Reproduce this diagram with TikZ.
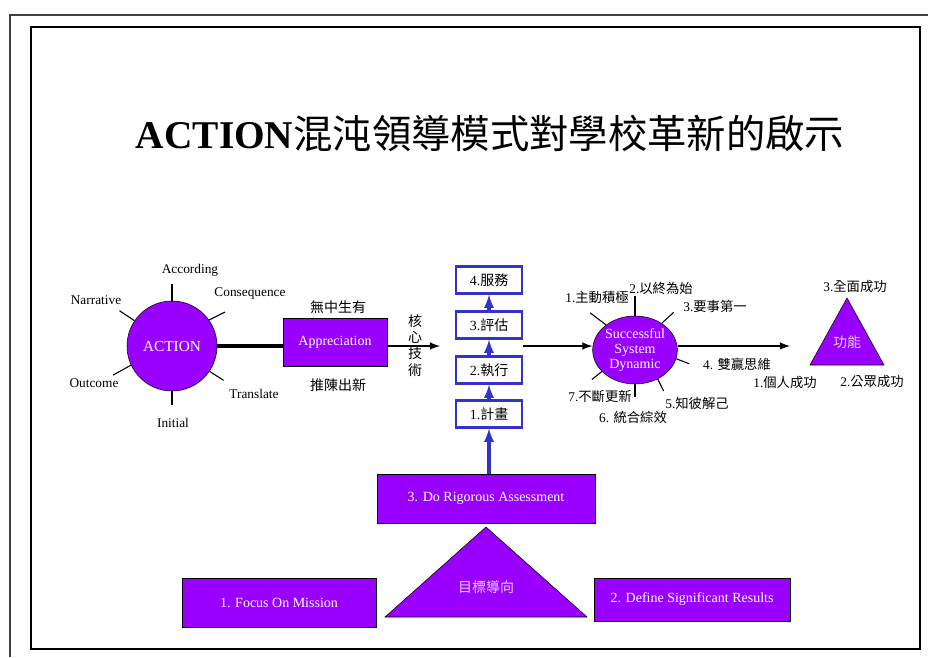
\documentclass[tikz,border=0pt]{standalone}
\usepackage{fontspec}
\setmainfont{Liberation Serif}
\newfontfamily\cjk{Noto Sans CJK TC}
\usepackage{tikz}
\usetikzlibrary{arrows,shapes.geometric}
\definecolor{actpurple}{RGB}{153,0,255}
\definecolor{boxblue}{RGB}{51,51,204}
\definecolor{lilac}{RGB}{235,200,255}

\begin{document}
\begin{tikzpicture}[x=0.75pt,y=-0.75pt,
    lbl/.style={font=\fontsize{10}{12}\selectfont},
    pnode/.style={draw=black,fill=actpurple,text=white,font=\fontsize{10.5}{13}\selectfont},
    pbox/.style={pnode,rectangle,minimum height=36.75pt},
    sbox/.style={draw=boxblue,line width=1.8pt,fill=white,minimum width=49.5pt,minimum height=20pt,inner sep=0pt,font=\fontsize{10.5}{12}\selectfont},
    barr/.style={draw=boxblue,line width=2.4pt,-latex},
    arr/.style={line width=1.6pt,-latex},
    spoke/.style={line width=0.8pt}]
\useasboundingbox (0,0) rectangle (928,657);
\draw[line width=1.6pt,black!75] (10,657) -- (10,15) -- (928,15);
\draw[line width=2pt] (31,27) rectangle (920,649);

\node[font=\fontsize{29.5}{34}\selectfont] (title) at (490,133) {\textbf{ACTION}{\cjk 混沌領導模式對學校革新的啟示}};

\node[pnode,circle,minimum size=67.5pt,inner sep=0pt,font=\fontsize{11.5}{13}\selectfont] (action) at (172,346) {ACTION};
\draw[spoke] (action.90) -- ++(0,-17);
\draw[spoke] (action.35) -- ++(16,-8);
\draw[spoke] (action.146) -- ++(-15,-10);
\draw[spoke] (action.205) -- ++(-18,10);
\draw[spoke] (action.-34) -- ++(14,9);
\draw[spoke] (action.270) -- ++(0,14);
\node[lbl] (according) at (190,270) {According};
\node[lbl] (consequence) at (250,293) {Consequence};
\node[lbl] (narrative) at (96,300) {Narrative};
\node[lbl] (outcome) at (94,383) {Outcome};
\node[lbl] (translate) at (254,394) {Translate};
\node[lbl] (initial) at (173,423) {Initial};

\node[pbox,minimum width=78pt,minimum height=36pt] (appr) at (335,342) {Appreciation};
\draw[line width=2.4pt] (action.east) -- (action.east -| appr.west);
\node[lbl,font=\fontsize{10.5}{12}\selectfont\cjk] (create) at (338,307) {無中生有};
\node[lbl,font=\fontsize{10.5}{12}\selectfont\cjk] (renew) at (338,385) {推陳出新};
\coordinate (core) at (440,346);
\draw[arr] (action.east -| appr.east) -- (core);
\node[align=center,font=\fontsize{10.5}{12.5}\selectfont\cjk] (heart) at (415,329) {核\\心};
\node[align=center,font=\fontsize{10.5}{12.5}\selectfont\cjk] (skill) at (415,362) {技\\術};

\node[sbox] (b4) at (489,280) {4.{\cjk 服務}};
\node[sbox] (b3) at (489,325) {3.{\cjk 評估}};
\node[sbox] (b2) at (489,370) {2.{\cjk 執行}};
\node[sbox] (b1) at (489,414) {1.{\cjk 計畫}};
\draw[barr] (b1) -- (b2);
\draw[barr] (b2) -- (b3);
\draw[barr] (b3) -- (b4);

\node[pnode,ellipse,minimum width=61pt,minimum height=51pt,inner sep=0pt,align=center,font=\fontsize{10.5}{11.5}\selectfont] (succ) at (635,350) {Successful\\System\\Dynamic};
\coordinate (tech) at (523,346);
\draw[arr] (tech) -- (tech -| succ.west);
\coordinate (goal) at (790,346);
\draw[arr] (goal -| succ.east) -- (goal);
\draw[spoke] (succ.139) -- ++(-16,-12);
\draw[spoke] (succ.90) -- ++(0,-20);
\draw[spoke] (succ.45) -- ++(12,-11);
\draw[spoke] (succ.-12) -- ++(13,5);
\draw[spoke] (succ.-52) -- ++(6,12);
\draw[spoke] (succ.270) -- ++(0,13);
\draw[spoke] (succ.213) -- ++(-10,8);
\node[lbl] (h1) at (597,297) {1.{\cjk 主動積極}};
\node[lbl] (h2) at (661,288) {2.{\cjk 以終為始}};
\node[lbl] (h3) at (715,306) {3.{\cjk 要事第一}};
\node[lbl] (h4) at (737,364) {4. {\cjk 雙贏思維}};
\node[lbl] (h5) at (697,403) {5.{\cjk 知彼解己}};
\node[lbl] (h6) at (633,417) {6. {\cjk 統合綜效}};
\node[lbl] (h7) at (600,396) {7.{\cjk 不斷更新}};

\draw[fill=actpurple] (847,298) -- (884,365) -- (810,365) -- cycle;
\node[text=lilac,font=\fontsize{10.5}{12}\selectfont\cjk] (func) at (847,342) {功能};
\node[lbl] (whole) at (855,286) {3.{\cjk 全面成功}};
\node[lbl] (self) at (785,382) {1.{\cjk 個人成功}};
\node[lbl] (public) at (872,382) {2.{\cjk 公眾成功}};

\node[pbox,minimum width=163.5pt] (assess) at (486,498.5) {3. Do Rigorous Assessment};
\draw[barr] (b1 |- assess.north) -- (b1.south);
\draw[fill=actpurple] (486,527) -- (587,617) -- (385,617) -- cycle;
\node[text=lilac,font=\fontsize{10.5}{12}\selectfont\cjk] (target) at (486,587) {目標導向};
\node[pbox,minimum width=145.5pt] (mission) at (279,602.5) {1. Focus On Mission};
\node[pbox,minimum width=147pt,minimum height=32.25pt] (results) at (692,599.5) {2. Define Significant Results};
\end{tikzpicture}
\end{document}
